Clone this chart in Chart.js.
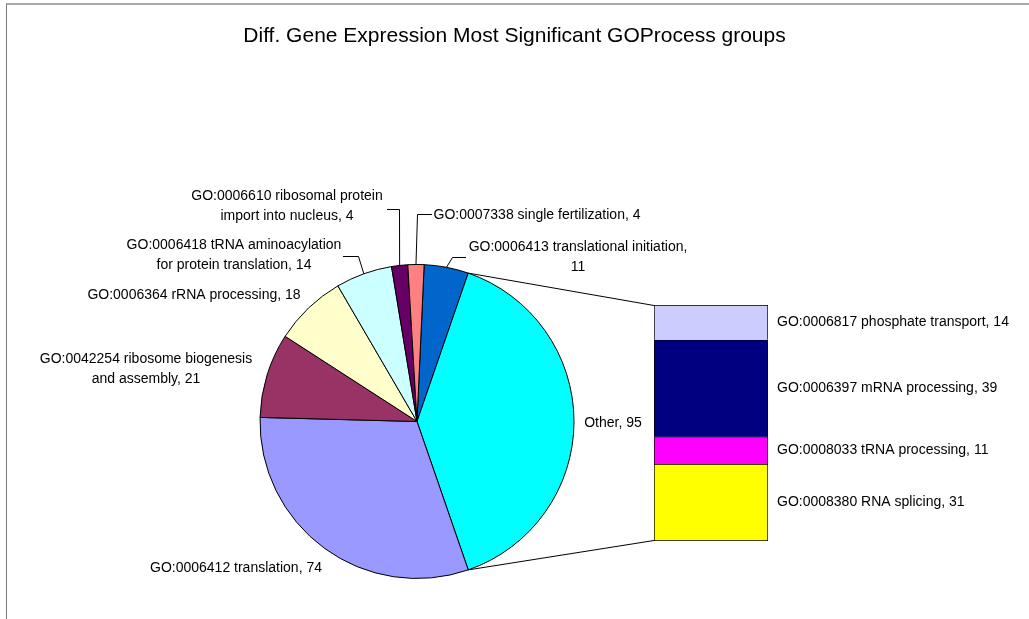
<!DOCTYPE html>
<html>
<head>
<meta charset="utf-8">
<script src="https://cdn.jsdelivr.net/npm/chart.js@4.4.1/dist/chart.umd.min.js"></script>
<style>
    html, body { margin: 0; padding: 0; background: #fff; }
    #wrap { position: relative; width: 1029px; height: 619px; overflow: hidden; }
    #frame { position: absolute; left: 6px; top: 3px; width: 1100px; height: 700px; border-top: 2px solid #a8a8a8; border-left: 1px solid #7a7a7a; }
    canvas { position: absolute; left: 0; top: 0; }
</style>
</head>
<body>
<div id="wrap">
    <div id="frame"></div>
    <canvas id="barCanvas" width="1029" height="619"></canvas>
    <canvas id="pieCanvas" width="1029" height="619"></canvas>
</div>
<script>
let chartTitle = 'Diff. Gene Expression Most Significant GOProcess groups';

// pie slices, clockwise from the top; index 1 is the "Other" slice split into the bar
let pieLabels = [
    ['GO:0006413 translational initiation,', '11'],
    ['Other, 95'],
    ['GO:0006412 translation, 74'],
    ['GO:0042254 ribosome biogenesis', 'and assembly, 21'],
    ['GO:0006364 rRNA processing, 18'],
    ['GO:0006418 tRNA aminoacylation', 'for protein translation, 14'],
    ['GO:0006610 ribosomal protein', 'import into nucleus, 4'],
    ['GO:0007338 single fertilization, 4']
];
let pieValues = [11, 95, 74, 21, 18, 14, 4, 4];
let pieColors = ['#0066cc', '#00ffff', '#9999ff', '#993366', '#ffffcc', '#ccffff', '#660066', '#ff8080'];

// the bar, top to bottom
let barLabels = [
    'GO:0006817 phosphate transport, 14',
    'GO:0006397 mRNA processing, 39',
    'GO:0008033 tRNA processing, 11',
    'GO:0008380 RNA splicing, 31'
];
let barValues = [14, 39, 11, 31];
let barColors = ['#ccccff', '#000080', '#ff00ff', '#ffff00'];

let otherIndex = 1;

// where the pie labels sit, and the bends of their leader lines
let labelPlaces = [
    { x: 578, y: 247, leader: [[452.5, 257.5], [466, 257.5]] },
    { x: 613, y: 423 },
    { x: 236, y: 568 },
    { x: 146, y: 359 },
    { x: 194, y: 295 },
    { x: 234, y: 245, leader: [[358.5, 256.5], [343, 256.5]] },
    { x: 287, y: 196, leader: [[399.5, 209.5], [387, 209.5]] },
    { x: 537, y: 215, leader: [[417.5, 214.5], [432, 214.5]] }
];

let labelFont = '14px "Liberation Sans", Arial, sans-serif';
let titleFont = '21px "Liberation Sans", Arial, sans-serif';

let pieTotal = pieValues.reduce((a, b) => a + b, 0);
let barTotal = barValues.reduce((a, b) => a + b, 0);
// turn the pie so that the Other slice faces the bar (3 o'clock)
let pieRotation = 90 - (pieValues[otherIndex] / pieTotal * 360) / 2;
for (let i = 0; i < otherIndex; i++) {
    pieRotation -= pieValues[i] / pieTotal * 360;
}

let barChart = new Chart(document.getElementById('barCanvas'), {
    type: 'bar',
    data: {
        labels: ['Other'],
        datasets: barLabels.map(function (label, i) {
            return {
                label: label,
                data: [barValues[i]],
                backgroundColor: barColors[i],
                borderColor: '#000',
                borderWidth: i === barLabels.length - 1 ? 1 : { top: 1, left: 1, right: 1, bottom: 0 },
                borderSkipped: false,
                barPercentage: 1,
                categoryPercentage: 1
            };
        })
    },
    options: {
        responsive: false,
        animation: false,
        layout: { padding: { left: 654, right: 261, top: 305, bottom: 78 } },
        scales: {
            x: { stacked: true, display: false },
            y: { stacked: true, display: false, reverse: true, min: 0, max: barTotal }
        },
        plugins: { legend: { display: false }, tooltip: { enabled: false } }
    }
});

function arcPoint(arc, angle) {
    return { x: arc.x + Math.cos(angle) * arc.outerRadius, y: arc.y + Math.sin(angle) * arc.outerRadius };
}

let pieTextPlugin = {
    id: 'pieText',
    afterDraw: function (chart) {
        let ctx = chart.ctx;
        let arcs = chart.getDatasetMeta(0).data;
        ctx.save();
        ctx.fillStyle = '#000';
        ctx.strokeStyle = '#000';
        ctx.lineWidth = 1;
        ctx.textBaseline = 'middle';

        ctx.font = titleFont;
        ctx.textAlign = 'center';
        ctx.fillText(chartTitle, 514.5, 36);

        // slice labels and leader lines
        ctx.font = labelFont;
        for (let i = 0; i < arcs.length; i++) {
            let arc = arcs[i];
            let place = labelPlaces[i];
            if (place.leader) {
                let p = arcPoint(arc, (arc.startAngle + arc.endAngle) / 2);
                ctx.beginPath();
                ctx.moveTo(p.x, p.y);
                place.leader.forEach(function (pt) { ctx.lineTo(pt[0], pt[1]); });
                ctx.stroke();
            }
            ctx.textAlign = 'center';
            pieLabels[i].forEach(function (line, k) {
                ctx.fillText(line, place.x, place.y + k * 20);
            });
        }

        // lines from the Other slice to the bar
        let other = arcs[otherIndex];
        let bars = barLabels.map(function (l, i) {
            return barChart.getDatasetMeta(i).data[0].getProps(['x', 'y', 'base', 'width'], true);
        });
        let left = bars[0].x - bars[0].width / 2;
        let right = bars[0].x + bars[0].width / 2;
        let top = Math.min(bars[0].y, bars[0].base);
        let last = bars[bars.length - 1];
        let bottom = Math.max(last.y, last.base);
        let a = arcPoint(other, other.startAngle);
        let b = arcPoint(other, other.endAngle);
        ctx.beginPath();
        ctx.moveTo(a.x, a.y);
        ctx.lineTo(left, top + 0.5);
        ctx.moveTo(b.x, b.y);
        ctx.lineTo(left, bottom - 0.5);
        ctx.stroke();

        // bar labels
        ctx.textAlign = 'left';
        bars.forEach(function (bar, i) {
            ctx.fillText(barLabels[i], right + 9, (bar.y + bar.base) / 2);
        });
        ctx.restore();
    }
};

new Chart(document.getElementById('pieCanvas'), {
    type: 'pie',
    data: {
        labels: pieLabels.map(function (l) { return l.join(' '); }),
        datasets: [{
            data: pieValues,
            backgroundColor: pieColors,
            borderColor: '#000',
            borderWidth: 1
        }]
    },
    options: {
        responsive: false,
        animation: false,
        rotation: pieRotation,
        layout: { padding: { left: 259, right: 454, top: 264, bottom: 40 } },
        plugins: { legend: { display: false }, tooltip: { enabled: false } }
    },
    plugins: [pieTextPlugin]
});
</script>
</body>
</html>
